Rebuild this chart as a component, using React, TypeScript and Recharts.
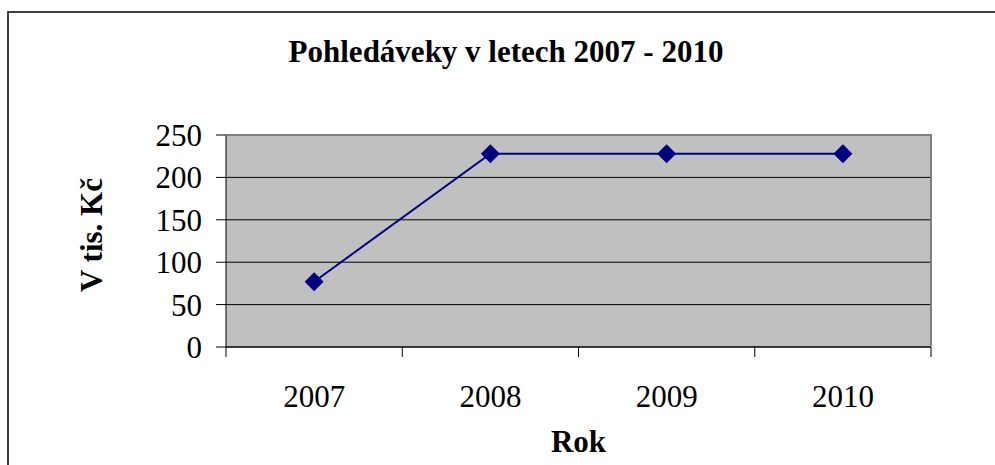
import React from 'react';
import { LineChart, Line, XAxis, YAxis, CartesianGrid, Label } from 'recharts';

const years = ['2007', '2008', '2009', '2010'];
const receivables = [77, 228, 228, 228];
const yTicks = [0, 50, 100, 150, 200, 250];

const data = years.map((year, i) => ({ year, value: receivables[i] }));

const W = 995;
const H = 465;
const PLOT = { left: 226, top: 135, right: 931, bottom: 347 };
const FONT = 'Liberation Serif';
const halfBand = (PLOT.right - PLOT.left) / years.length / 2;

// excel style diamond marker
const Diamond = (props: any) => {
    const { cx, cy } = props;
    if (cx == null || cy == null) return null;
    const r = 9.5;
    return <polygon points={`${cx},${cy - r} ${cx + r},${cy} ${cx},${cy + r} ${cx - r},${cy}`} fill="#000080" />;
};

// tick marks sit between categories, labels in the middle
const XTick = (props: any) => {
    const { x, index, payload } = props;
    return (
        <g>
            <line x1={x - halfBand} x2={x - halfBand} y1={PLOT.bottom} y2={PLOT.bottom + 10} stroke="#000" />
            {index === years.length - 1 && (
                <line x1={x + halfBand} x2={x + halfBand} y1={PLOT.bottom} y2={PLOT.bottom + 10} stroke="#000" />
            )}
            <text x={x} y={PLOT.bottom + 60} textAnchor="middle" style={{ fontFamily: FONT, fontSize: 31 }} fill="#000">
                {payload.value}
            </text>
        </g>
    );
};

const YLabel = () => (
    <text x={102} y={235} transform="rotate(-90, 102, 235)" textAnchor="middle" style={{ fontFamily: FONT, fontSize: 31, fontWeight: 'bold' }} fill="#000">
        V tis. Kč
    </text>
);

export default function App() {
    return (
        <div style={{ position: 'absolute', left: 0, top: 0, width: W, height: H, overflow: 'hidden', background: '#fff', fontFamily: FONT }}>
            <div style={{ position: 'absolute', left: 7, top: 11, width: W + 20, height: H + 20, border: '2px solid #404040', boxSizing: 'border-box' }} />
            <div style={{ position: 'absolute', left: 0, top: 36, width: 1012, textAlign: 'center', fontFamily: FONT, fontSize: 31, fontWeight: 'bold', lineHeight: '31px', color: '#000' }}>
                Pohledáveky v letech 2007 - 2010
            </div>
            <div style={{ position: 'absolute', left: 0, top: 0 }}>
                <LineChart width={W} height={H} data={data} style={{ fontFamily: FONT }} margin={{ top: PLOT.top, right: W - PLOT.right, bottom: 0, left: 0 }}>
                    <CartesianGrid vertical={false} stroke="#000" fill="#C0C0C0" fillOpacity={1} />
                    <XAxis
                        dataKey="year"
                        height={H - PLOT.bottom}
                        padding={{ left: halfBand, right: halfBand }}
                        axisLine={{ stroke: '#000' }}
                        tickLine={false}
                        tick={<XTick />}
                        interval={0}
                    >
                        <Label value="Rok" position="insideBottom" offset={13} style={{ fontFamily: FONT, fontSize: 31, fontWeight: 'bold' }} fill="#000" />
                    </XAxis>
                    <YAxis
                        width={PLOT.left}
                        domain={[0, 250]}
                        ticks={yTicks}
                        interval={0}
                        axisLine={{ stroke: '#000' }}
                        tickLine={{ stroke: '#000' }}
                        tickSize={10}
                        tickMargin={14}
                        tick={{ style: { fontFamily: FONT, fontSize: 31 }, fill: '#000' }}
                    >
                        <Label content={<YLabel />} />
                    </YAxis>
                    <Line
                        type="linear"
                        dataKey="value"
                        stroke="#000080"
                        strokeWidth={2}
                        dot={<Diamond />}
                        activeDot={false}
                        isAnimationActive={false}
                    />
                </LineChart>
            </div>
            <div style={{ position: 'absolute', left: PLOT.left, top: PLOT.top - 1, width: PLOT.right - PLOT.left + 1, height: PLOT.bottom - PLOT.top, borderTop: '2px solid #808080', borderRight: '2px solid #808080', boxSizing: 'border-box', pointerEvents: 'none' }} />
        </div>
    );
}
